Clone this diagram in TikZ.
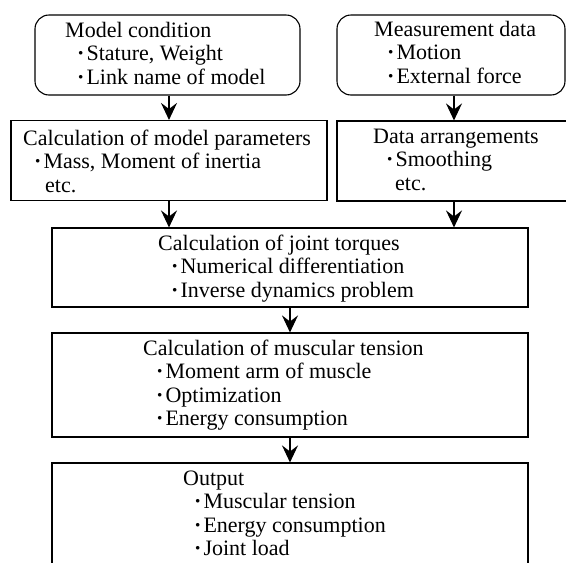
\documentclass[tikz,border=0pt]{standalone}
\usepackage{fontspec}
\setmainfont{Liberation Serif}
\usetikzlibrary{arrows.meta}

\newcommand{\boxlines}[1]{\begin{tabular}[t]{@{}l@{}}#1\end{tabular}}
\newcommand{\dotmark}{\textbf{·}\hspace{2pt}}

\begin{document}
\begin{tikzpicture}[x=1pt, y=-1pt,
    frame/.style={draw, line width=1.1pt, inner sep=0pt, minimum width=#1},
    roundframe/.style={frame=#1, rounded corners=14pt, minimum height=80pt},
    boxtext/.style={anchor=base west, inner sep=0pt, font=\fontsize{22}{23.5}\selectfont},
    flow/.style={line width=1.2pt, -{Stealth[length=17pt, width=16pt, inset=6pt]}}]
    \clip (0, 0) rectangle (566, 563);
    \fill [white] (0, 0) rectangle (566, 563);

    % input boxes
    \node [roundframe=265pt] (model) at (167.5, 55) {};
    \node [roundframe=228pt] (measure) at (451, 55) {};
    \node [frame=316pt, minimum height=80pt] (param) at (169, 160.5) {};
    \node [frame=234pt, minimum height=80pt] (arrange) at (454, 161) {};

    % main chain
    \node [frame=476pt, minimum height=79pt] (torque) at (290, 267.5) {};
    \node [frame=476pt, minimum height=104pt] (tension) at (290, 385) {};
    \node [frame=476pt, minimum height=140pt] (output) at (290, 533) {};

    % texts
    \node [boxtext] (model text) at (65, 37) {\boxlines{Model condition\\
        \hspace{12pt}\dotmark Stature, Weight\\ \hspace{12pt}\dotmark Link name of model}};
    \node [boxtext] (measure text) at (374, 36) {\boxlines{Measurement data\\
        \hspace{13pt}\dotmark Motion\\ \hspace{13pt}\dotmark External force}};
    \node [boxtext] (param text) at (23, 145) {\boxlines{Calculation of model parameters\\
        \hspace{11pt}\dotmark Mass, Moment of inertia\\ \hspace{22pt}etc.}};
    \node [boxtext] (arrange text) at (373, 143) {\boxlines{Data arrangements\\
        \hspace{13pt}\dotmark Smoothing\\ \hspace{22pt}etc.}};
    \node [boxtext] (torque text) at (158, 250) {\boxlines{Calculation of joint torques\\
        \hspace{13pt}\dotmark Numerical differentiation\\ \hspace{13pt}\dotmark Inverse dynamics problem}};
    \node [boxtext] (tension text) at (143, 355) {\boxlines{Calculation of muscular tension\\
        \hspace{13pt}\dotmark Moment arm of muscle\\ \hspace{13pt}\dotmark Optimization\\
        \hspace{13pt}\dotmark Energy consumption}};
    \node [boxtext] (output text) at (183, 485) {\boxlines{Output\\
        \hspace{11pt}\dotmark Muscular tension\\ \hspace{11pt}\dotmark Energy consumption\\
        \hspace{11pt}\dotmark Joint load}};

    % arrows
    \draw [flow] (param.north |- model.south) -- (param.north);
    \draw [flow] (arrange.north |- measure.south) -- (arrange.north);
    \draw [flow] (param.south) -- (param.south |- torque.north);
    \draw [flow] (arrange.south) -- (arrange.south |- torque.north);
    \draw [flow] (torque.south) -- (tension.north);
    \draw [flow] (tension.south) -- (output.north);

\end{tikzpicture}
\end{document}
